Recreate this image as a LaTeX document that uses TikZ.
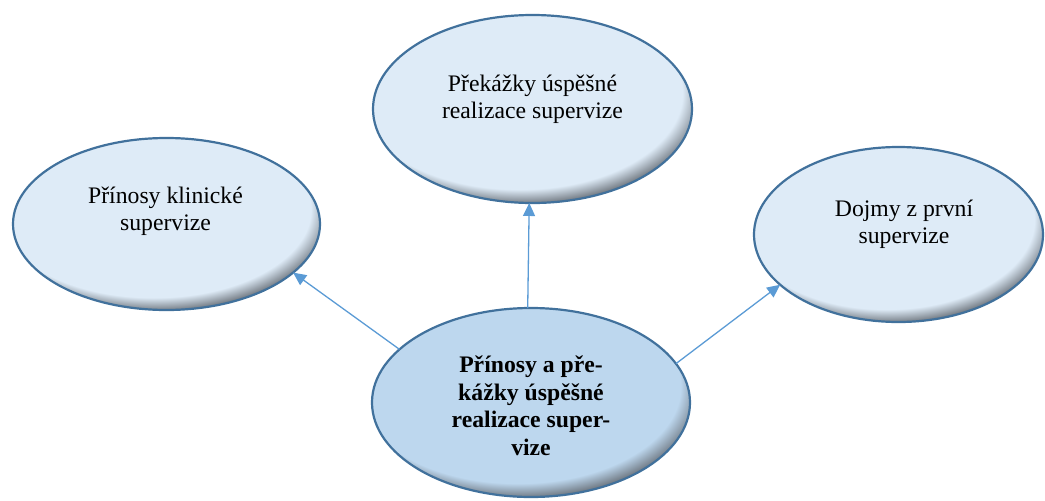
\documentclass[tikz,border=0pt]{standalone}
\usepackage{fontspec}
\setmainfont{Liberation Serif}
\usetikzlibrary{arrows.meta,shapes.geometric}
\definecolor{fillL}{HTML}{DEEBF7}
\definecolor{fillC}{HTML}{BDD7EE}
\definecolor{shadowC}{HTML}{656C74}
\definecolor{edgeC}{HTML}{41719C}
\definecolor{arrowC}{HTML}{5B9BD5}
\pgfdeclareradialshading{bevelLight}{\pgfpoint{-4.3bp}{8.7bp}}{color(0bp)=(fillL); color(25.6bp)=(fillL); color(29.3bp)=(shadowC); color(50bp)=(shadowC)}
\pgfdeclareradialshading{bevelCenter}{\pgfpoint{-4.3bp}{8.7bp}}{color(0bp)=(fillC); color(25.6bp)=(fillC); color(29.3bp)=(shadowC); color(50bp)=(shadowC)}
\tikzset{
  bubble/.style={ellipse, draw=edgeC, line width=2.2pt, inner sep=0pt, outer sep=0pt, shading=bevelLight},
  hub/.style={bubble, shading=bevelCenter},
  label/.style={align=center, anchor=base, inner sep=0pt, font=\fontsize{23.7}{27}\selectfont},
  hublabel/.style={align=center, anchor=base, inner sep=0pt, font=\fontsize{23.7}{27.5}\selectfont\bfseries},
  link/.style={draw=arrowC, line width=1.3pt, -{Triangle[length=13pt,width=12pt]}}
}
\begin{document}
\begin{tikzpicture}[x=1pt,y=-1pt]
\useasboundingbox (0,0) rectangle (1045,501);
\node[bubble, minimum width=319pt, minimum height=188pt] (top) at (532.5,109) {};
\node[bubble, minimum width=307pt, minimum height=172pt] (left) at (166.5,224) {};
\node[bubble, minimum width=289pt, minimum height=175pt] (right) at (898.5,234.5) {};
\node[hub, minimum width=318pt, minimum height=189pt] (ctr) at (531,402.5) {};
\node[label] (toptext) at (532.5,118) {Překážky úspěšné\\realizace supervize};
\node[label] (lefttext) at (165.5,230) {Přínosy klinické\\supervize};
\node[label] (righttext) at (904,243) {Dojmy z první\\supervize};
\node[hublabel] (ctrtext) at (531,455) {Přínosy a pře-\\kážky úspěšné\\realizace super-\\vize};
\draw[link] (ctr.158.6) -- (left.-21);
\draw[link] (ctr.92.1) -- (top.-92.7);
\draw[link] (ctr.15.6) -- (right.-157.6);
\end{tikzpicture}
\end{document}
